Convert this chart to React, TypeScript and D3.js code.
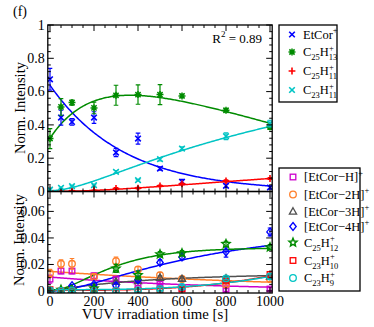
import React from 'react';
import * as d3 from 'd3';

// irradiation times [s]
const times = [0, 50, 100, 200, 300, 400, 500, 600, 800, 1000];

// upper panel
const etcor = [0.674, 0.444, 0.418, 0.444, 0.234, 0.318, 0.138, 0.058, 0.034, 0.024];
const etcorErr = [0.065, 0.045, 0.02, 0.035, 0.025, 0.033, 0.01, 0.015, 0.01, 0.01];
const c25h13 = [0.318, 0.508, 0.534, 0.502, 0.578, 0.582, 0.582, 0.574, 0.488, 0.388];
const c25h13Err = [0.06, 0.05, 0.015, 0.035, 0.06, 0.058, 0.06, 0.01, 0.01, 0.015];
const c25h11 = [0.003, 0.003, 0.004, 0.006, 0.018, 0.02, 0.034, 0.046, 0.064, 0.078];
const c25h11Err = [0.003, 0.003, 0.003, 0.003, 0.005, 0.005, 0.005, 0.005, 0.006, 0.006];
const c23h11 = [0.012, 0.022, 0.032, 0.038, 0.118, 0.068, 0.194, 0.258, 0.332, 0.408];
const c23h11Err = [0.005, 0.005, 0.005, 0.005, 0.008, 0.005, 0.01, 0.01, 0.02, 0.02];

// lower panel
const etcorH = [0.009, 0.015, 0.015, 0.0115, 0.009, 0.005, 0.006, 0.002, 0.0008, 0.0015];
const etcorHErr = [0.003, 0.002, 0.002, 0.002, 0.001, 0.001, 0.001, 0.001, 0.001, 0.001];
const etcor2H = [0.0133, 0.0205, 0.0205, 0.0107, 0.0225, 0.0163, 0.012, 0.009, 0.005, 0.009];
const etcor2HErr = [0.003, 0.003, 0.004, 0.002, 0.003, 0.002, 0.002, 0.002, 0.002, 0.002];
const etcor3H = [0.0, 0.0005, 0.001, 0.003, 0.007, 0.0075, 0.01, 0.0092, 0.0095, 0.011];
const etcor3HErr = [0.001, 0.001, 0.001, 0.001, 0.001, 0.001, 0.0015, 0.0015, 0.001, 0.001];
const etcor4H = [0.0, 0.0, 0.004, 0.005, 0.004, 0.0085, 0.0215, 0.0257, 0.0295, 0.0445];
const etcor4HErr = [0.001, 0.001, 0.001, 0.001, 0.002, 0.002, 0.002, 0.002, 0.004, 0.003];
const c25h12 = [0.0, 0.001, 0.001, 0.002, 0.017, 0.012, 0.0277, 0.0285, 0.0355, 0.033];
const c25h12Err = [0.001, 0.001, 0.001, 0.001, 0.003, 0.003, 0.002, 0.002, 0.002, 0.002];
const c23h10 = [0.001, 0.0, 0.0005, 0.0, 0.0, 0.0005, 0.001, 0.0015, 0.0075, 0.0125];
const c23h10Err = [0.001, 0.001, 0.001, 0.001, 0.001, 0.001, 0.001, 0.001, 0.001, 0.002];
const c23h9 = [0.0005, 0.0, 0.0005, 0.0, 0.0, 0.0005, 0.0015, 0.003, 0.0095, 0.011];
const c23h9Err = [0.001, 0.001, 0.001, 0.001, 0.001, 0.001, 0.001, 0.001, 0.001, 0.002];

// fit models
const decay = (A, tau, c = 0) => (t) => A * Math.exp(-t / tau) + c;
const rise = (A, tau) => (t) => A * (1 - Math.exp(-t / tau));
const seq = (A0, k1, k2, c = 0) => (t) =>
  c + A0 * (1 + (k2 * Math.exp(-k1 * t) - k1 * Math.exp(-k2 * t)) / (k1 - k2));
const riseFall = (c0, A, tau, B) => (t) => c0 + A * (1 - Math.exp(-t / tau)) - B * t;
const power = (c, a, n) => (t) => c + a * Math.pow(t, n);

const C = {
  blue: '#0000ff',
  green: '#008b00',
  red: '#ff0000',
  cyan: '#00c4c4',
  magenta: '#cc00cc',
  orange: '#ff7f2a',
  gray: '#505050',
};

const topSeries = [
  { v: etcor, e: etcorErr, color: C.blue, mk: 'x', fit: decay(0.638, 338) },
  { v: c25h13, e: c25h13Err, color: C.green, mk: '*', fit: riseFall(0.32, 0.473, 200, 0.00038) },
  { v: c25h11, e: c25h11Err, color: C.red, mk: '+', fit: seq(0.277, 0.003, 0.0005) },
  { v: c23h11, e: c23h11Err, color: C.cyan, mk: 'x', fit: seq(0.77, 0.008, 0.0008, 0.005) },
];

const bottomSeries = [
  { v: etcorH, e: etcorHErr, color: C.magenta, mk: 'square', fit: decay(0.0105, 780) },
  { v: etcor2H, e: etcor2HErr, color: C.orange, mk: 'circle', fit: decay(0.0148, 1250) },
  { v: etcor3H, e: etcor3HErr, color: C.gray, mk: 'triangle', fit: rise(0.013, 450) },
  { v: etcor4H, e: etcor4HErr, color: C.blue, mk: 'diamond', fit: seq(0.048, 0.007, 0.0015) },
  { v: c25h12, e: c25h12Err, color: C.green, mk: 'star', fit: seq(0.0325, 0.007, 0.006) },
  { v: c23h10, e: c23h10Err, color: C.red, mk: 'square', fit: power(0.0005, 1.1e-11, 3) },
  { v: c23h9, e: c23h9Err, color: C.cyan, mk: 'circle', fit: power(0.001, 1.0e-11, 3) },
];

const FONT = "'Liberation Serif', 'DejaVu Serif', serif";

const x = d3.scaleLinear().domain([-10, 1010]).range([47.8, 272.2]);
const yTop = d3.scaleLinear().domain([0, 1]).range([191.5, 25]);
const yBot = d3.scaleLinear().domain([-0.0015, 0.075]).range([293, 191.5]);

function Marker({ kind, cx, cy, color }) {
  const sw = 1.3;
  if (kind === 'x') {
    const h = 2.8;
    return (
      <path d={`M${cx - h},${cy - h}L${cx + h},${cy + h}M${cx - h},${cy + h}L${cx + h},${cy - h}`}
        stroke={color} strokeWidth={1.6} fill="none" />
    );
  }
  if (kind === '+') {
    const h = 3.4;
    return (
      <path d={`M${cx - h},${cy}L${cx + h},${cy}M${cx},${cy - h}L${cx},${cy + h}`}
        stroke={color} strokeWidth={1.6} fill="none" />
    );
  }
  if (kind === '*') {
    const h = 3.5, d = 2.6;
    return (
      <path d={`M${cx - h},${cy}L${cx + h},${cy}M${cx},${cy - h}L${cx},${cy + h}M${cx - d},${cy - d}L${cx + d},${cy + d}M${cx - d},${cy + d}L${cx + d},${cy - d}`}
        stroke={color} strokeWidth={1.5} fill="none" />
    );
  }
  if (kind === 'square') {
    return <rect x={cx - 2.8} y={cy - 2.8} width={5.6} height={5.6} stroke={color} strokeWidth={sw} fill="none" />;
  }
  if (kind === 'circle') {
    return <circle cx={cx} cy={cy} r={3.3} stroke={color} strokeWidth={sw} fill="none" />;
  }
  if (kind === 'triangle') {
    return <path d={`M${cx},${cy - 3.8}L${cx + 3.6},${cy + 2.6}L${cx - 3.6},${cy + 2.6}Z`} stroke={color} strokeWidth={sw} fill="none" />;
  }
  if (kind === 'diamond') {
    return <path d={`M${cx},${cy - 4}L${cx + 3.2},${cy}L${cx},${cy + 4}L${cx - 3.2},${cy}Z`} stroke={color} strokeWidth={sw} fill="none" />;
  }
  if (kind === 'star') {
    const pts = d3.range(10).map((i) => {
      const r = i % 2 === 0 ? 4.2 : 1.9;
      const a = -Math.PI / 2 + (i * Math.PI) / 5;
      return [cx + r * Math.cos(a), cy + r * Math.sin(a)];
    });
    return <path d={'M' + pts.map((p) => p.join(',')).join('L') + 'Z'} stroke={color} strokeWidth={1.5} fill="none" />;
  }
  return null;
}

function Panel({ series, y, yTicks, yMinor, fmt, clipId }) {
  const [y0, y1] = y.range();
  const [x0, x1] = x.range();
  const samples = d3.range(0, 1001, 5);
  const xMajor = [0, 200, 400, 600, 800, 1000];
  const xMinor = d3.range(0, 1001, 50).filter((t) => t % 200 !== 0);
  const ticks = [];
  xMajor.forEach((t) => {
    ticks.push(`M${x(t)},${y0}v-6M${x(t)},${y1}v6`);
  });
  xMinor.forEach((t) => {
    ticks.push(`M${x(t)},${y0}v-3M${x(t)},${y1}v3`);
  });
  yTicks.forEach((v) => {
    ticks.push(`M${x0},${y(v)}h6M${x1},${y(v)}h-6`);
  });
  yMinor.forEach((v) => {
    ticks.push(`M${x0},${y(v)}h3M${x1},${y(v)}h-3`);
  });
  return (
    <g>
      <defs>
        <clipPath id={clipId}>
          <rect x={x0} y={y1} width={x1 - x0} height={y0 - y1} />
        </clipPath>
      </defs>
      <g clipPath={`url(#${clipId})`}>
        {series.map((s, i) => (
          <path key={'f' + i} fill="none" stroke={s.color} strokeWidth={1.5}
            d={d3.line().x((t) => x(t)).y((t) => y(s.fit(t)))(samples)} />
        ))}
        {series.map((s, i) => (
          <g key={'s' + i}>
            {times.map((t, j) => {
              const cx = x(t);
              const lo = y(s.v[j] - s.e[j]);
              const hi = y(s.v[j] + s.e[j]);
              return (
                <g key={j}>
                  <path d={`M${cx},${lo}L${cx},${hi}M${cx - 2.3},${lo}h4.6M${cx - 2.3},${hi}h4.6`}
                    stroke={s.color} strokeWidth={1.2} fill="none" />
                  <Marker kind={s.mk} cx={cx} cy={y(s.v[j])} color={s.color} />
                </g>
              );
            })}
          </g>
        ))}
      </g>
      <path d={ticks.join('')} stroke="#000" strokeWidth={1} fill="none" />
      <rect x={x0} y={y1} width={x1 - x0} height={y0 - y1} fill="none" stroke="#000" strokeWidth={1.3} />
      {yTicks.map((v) => (
        <text key={v} x={x0 - 3} y={y(v) + 4.8} textAnchor="end" fontSize={14} style={{ fontFamily: FONT }}>
          {fmt(v)}
        </text>
      ))}
    </g>
  );
}

// chemical label: plain text, subscripts, superscripts, and stacked sub/sup
function Chem({ x0, y0, parts }) {
  let cur = 0;
  const out = [];
  parts.forEach((p, i) => {
    if (p.sub !== undefined && p.sup !== undefined) {
      out.push(<tspan key={i + 'a'} fontSize={8.5} dy={-5.5 - cur}>{p.sup}</tspan>);
      out.push(<tspan key={i + 'b'} fontSize={8.5} dx={-4.8} dy={9.5}>{p.sub}</tspan>);
      cur = 4;
    } else if (p.sub !== undefined) {
      out.push(<tspan key={i} fontSize={8.5} dy={4 - cur}>{p.sub}</tspan>);
      cur = 4;
    } else if (p.sup !== undefined) {
      out.push(<tspan key={i} fontSize={8.5} dy={-5.5 - cur}>{p.sup}</tspan>);
      cur = -5.5;
    } else {
      out.push(<tspan key={i} dy={-cur}>{p.t}</tspan>);
      cur = 0;
    }
  });
  return (
    <text x={x0} y={y0} fontSize={12.5} style={{ fontFamily: FONT }}>{out}</text>
  );
}

const topLegend = [
  { mk: 'x', color: C.blue, y: 34.5, parts: [{ t: 'EtCor' }, { sup: '+' }] },
  { mk: '*', color: C.green, y: 52, parts: [{ t: 'C' }, { sub: '25' }, { t: 'H' }, { sub: '13', sup: '+' }] },
  { mk: '+', color: C.red, y: 71, parts: [{ t: 'C' }, { sub: '25' }, { t: 'H' }, { sub: '11', sup: '+' }] },
  { mk: 'x', color: C.cyan, y: 90, parts: [{ t: 'C' }, { sub: '23' }, { t: 'H' }, { sub: '11', sup: '+' }] },
];

const bottomLegend = [
  { mk: 'square', color: C.magenta, y: 177, parts: [{ t: '[EtCor\u2212H]' }, { sup: '+' }] },
  { mk: 'circle', color: C.orange, y: 194.5, parts: [{ t: '[EtCor\u22122H]' }, { sup: '+' }] },
  { mk: 'triangle', color: C.gray, y: 211.5, parts: [{ t: '[EtCor\u22123H]' }, { sup: '+' }] },
  { mk: 'diamond', color: C.blue, y: 226.5, parts: [{ t: '[EtCor\u22124H]' }, { sup: '+' }] },
  { mk: 'star', color: C.green, y: 242.5, parts: [{ t: 'C' }, { sub: '25' }, { t: 'H' }, { sub: '12', sup: '+' }] },
  { mk: 'square', color: C.red, y: 260.5, parts: [{ t: 'C' }, { sub: '23' }, { t: 'H' }, { sub: '10', sup: '+' }] },
  { mk: 'circle', color: C.cyan, y: 278, parts: [{ t: 'C' }, { sub: '23' }, { t: 'H' }, { sub: '9', sup: '+' }] },
];

export default function App() {
  const topTicks = [0, 0.2, 0.4, 0.6, 0.8, 1];
  const topMinor = d3.range(0.04, 1, 0.04).filter((v) => Math.abs(v / 0.2 - Math.round(v / 0.2)) > 1e-6);
  const botTicks = [0, 0.02, 0.04, 0.06];
  const botMinor = d3.range(0.005, 0.075, 0.005).filter((v) => Math.abs(v / 0.02 - Math.round(v / 0.02)) > 1e-6);
  const tf = { fontFamily: FONT };
  return (
    <svg width={374} height={327} style={{ position: 'absolute', left: 0, top: 0, background: '#fff' }}>
      <text x={13} y={16} fontSize={14} style={tf}>(f)</text>
      <Panel series={topSeries} y={yTop} yTicks={topTicks} yMinor={topMinor}
        fmt={(v) => (v === 0 || v === 1 ? String(v) : v.toFixed(1))} clipId="clipTop" />
      <Panel series={bottomSeries} y={yBot} yTicks={botTicks} yMinor={botMinor}
        fmt={(v) => (v === 0 ? '0' : v.toFixed(2))} clipId="clipBot" />
      {[0, 200, 400, 600, 800, 1000].map((t) => (
        <text key={t} x={x(t)} y={305.5} textAnchor="middle" fontSize={14} style={tf}>{t}</text>
      ))}
      <text x={155} y={319} textAnchor="middle" fontSize={14.8} style={tf}>VUV irradiation time [s]</text>
      <text transform="translate(25,108) rotate(-90)" textAnchor="middle" fontSize={14.5} style={tf}>Norm. Intensity</text>
      <text transform="translate(24,240) rotate(-90)" textAnchor="middle" fontSize={14.5} style={tf}>Norm. Intensity</text>
      <text x={262} y={42.5} textAnchor="end" fontSize={13} style={tf}>
        R<tspan fontSize={9} dy={-6}>2</tspan><tspan dy={6}> = 0.89</tspan>
      </text>
      <rect x={279} y={25} width={58} height={77} fill="#fff" stroke="#000" strokeWidth={1.3} />
      {topLegend.map((l, i) => (
        <g key={i}>
          <Marker kind={l.mk} cx={292} cy={l.y} color={l.color} />
          <Chem x0={303} y0={l.y + 4.3} parts={l.parts} />
        </g>
      ))}
      <rect x={279} y={168} width={81} height={123} fill="#fff" stroke="#000" strokeWidth={1.3} />
      {bottomLegend.map((l, i) => (
        <g key={i}>
          <Marker kind={l.mk} cx={293} cy={l.y} color={l.color} />
          <Chem x0={304} y0={l.y + 4.3} parts={l.parts} />
        </g>
      ))}
    </svg>
  );
}
